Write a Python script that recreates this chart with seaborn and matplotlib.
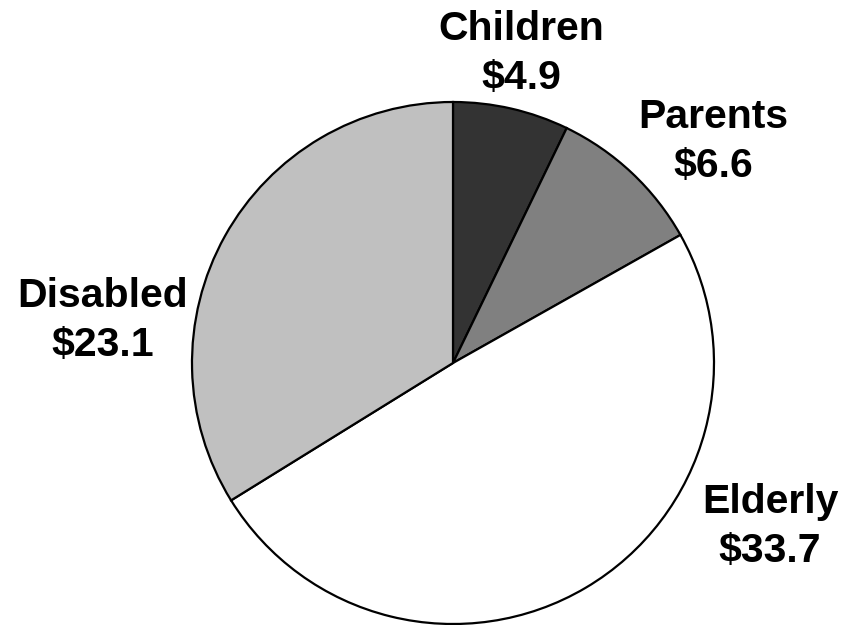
import matplotlib
matplotlib.use("Agg")
import matplotlib.pyplot as plt
import seaborn as sns

sns.set_theme(style="white")
plt.rcParams["font.family"] = ["Liberation Sans", "DejaVu Sans"]

# Spending by group (billions of dollars), clockwise from 12 o'clock
groups = ["Children", "Parents", "Elderly", "Disabled"]
spending = [4.9, 6.6, 33.7, 23.1]
shades = ["#333333", "#808080", "#ffffff", "#c0c0c0"]

# Label anchor points (pixel x, baseline y of the name line)
label_pos = [(521, 40), (713, 128), (770, 513), (103, 307)]

W, H = 860, 625
fig = plt.figure(figsize=(W / 100, H / 100), dpi=100)
ax = fig.add_axes([0, 0, 1, 1])
ax.set_xlim(0, W)
ax.set_ylim(0, H)
ax.set_aspect("equal")
ax.axis("off")

ax.pie(
    spending,
    colors=shades,
    startangle=90,
    counterclock=False,
    center=(453, H - 363),
    radius=261,
    wedgeprops=dict(edgecolor="black", linewidth=1.6),
    frame=True,
)
ax.set_xlim(0, W)
ax.set_ylim(0, H)
ax.axis("off")

for name, val, (x, y) in zip(groups, spending, label_pos):
    ax.text(x, H - y, name, ha="center", va="baseline",
            fontsize=29.5, fontweight="bold", color="black")
    ax.text(x, H - y - 49, f"${val}", ha="center", va="baseline",
            fontsize=29.5, fontweight="bold", color="black")

fig.savefig("out.png", dpi=100, facecolor="white")
